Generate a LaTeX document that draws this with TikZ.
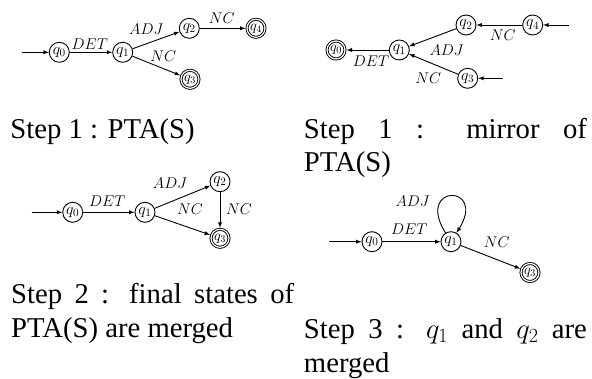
\RequirePackage{fix-cm}
\documentclass[tikz,border=0pt]{standalone}
\usepackage[no-math]{fontspec}
\setmainfont{Liberation Serif}
\usetikzlibrary{arrows}
\tikzset{statenode/.style={circle, draw, minimum size=20pt, inner sep=0pt, font=\fontsize{16}{19}\selectfont},
  finalnode/.style={statenode, double, double distance=1.2pt, minimum size=18pt, outer sep=1.5pt, font=\fontsize{14.5}{17}\selectfont},
  lab/.style={inner sep=0pt, font=\fontsize{15.5}{18}\selectfont},
  capt/.style={inner sep=0pt, anchor=base west, text width=283pt, align=justify, font=\fontsize{28.7}{33.5}\selectfont}}

\begin{document}
\begin{tikzpicture}[x=1pt,y=1pt,line width=0.9pt,>=latex]
       \useasboundingbox (0,0) rectangle (592,378);
       % step 1 : PTA(S)
       \begin{scope}
        \coordinate (a) at (21.7,325.7);
        \node[statenode] (a0) at (59.3,325.7) {$q_0$};
        \node[statenode] (a1) at (122.7,325.7) {$q_1$};
        \node[statenode] (a2) at (189.3,349.7) {$q_2$};
        \node[finalnode] (a3) at (190,298.7) {$q_3$};
        \node[finalnode] (a4) at (256,349.7) {$q_4$};
        \draw[->] (a) -- (a0);
        \draw[->] (a0) -- (a1);
        \draw[->] (a1) -- (a2);
        \draw[->] (a1) -- (a3);
        \draw[->] (a2) -- (a4);
        \node[lab] (la1) at (89.7,333.7) {$DET$};
        \node[lab] (la2) at (146.3,348.7) {$ADJ$};
        \node[lab] (la3) at (221.7,359.3) {$NC$};
        \node[lab] (la4) at (163.3,322) {$NC$};
        \node[capt] (ca) at (10,239.7) {Step 1 : PTA(S)};
       \end{scope}
       % step 1 : mirror
       \begin{scope}[xshift=296pt]
        \coordinate (b) at (273.3,353);
        \coordinate (bb) at (206.7,299.7);
        \node[finalnode] (b0) at (40,328) {$q_0$};
        \node[statenode] (b1) at (103.3,328) {$q_1$};
        \node[statenode] (b2) at (170,353) {$q_2$};
        \node[statenode] (b3) at (171.7,299.7) {$q_3$};
        \node[statenode] (b4) at (236.7,353) {$q_4$};
        \draw[->] (b) -- (b4);
        \draw[->] (bb) -- (b3);
        \draw[->] (b4) -- (b2);
        \draw[->] (b2) -- (b1);
        \draw[->] (b3) -- (b1);
        \draw[->] (b1) -- (b0);
        \node[lab] (lb1) at (206.7,342.7) {$NC$};
        \node[lab] (lb2) at (150.7,327.3) {$ADJ$};
        \node[lab] (lb3) at (75,316.7) {$DET$};
        \node[lab] (lb4) at (132.3,300) {$NC$};
        \node[capt] (cb) at (7.5,239.7) {Step 1 : mirror of\linebreak PTA(S)};
       \end{scope}
       % step 2 : final states merged
       \begin{scope}
        \coordinate (c) at (31.7,165.7);
        \node[statenode] (c0) at (72.7,165.7) {$q_0$};
        \node[statenode] (c1) at (145,165.7) {$q_1$};
        \node[statenode] (c2) at (220,196.3) {$q_2$};
        \node[finalnode] (c3) at (220,139.7) {$q_3$};
        \draw[->] (c) -- (c0);
        \draw[->] (c0) -- (c1);
        \draw[->] (c1) -- (c2);
        \draw[->] (c1) -- (c3);
        \draw[->] (c2) -- (c3);
        \node[lab] (lc1) at (107.3,176.3) {$DET$};
        \node[lab] (lc2) at (170,194.7) {$ADJ$};
        \node[lab] (lc3) at (190,168.7) {$NC$};
        \node[lab] (lc4) at (239,168.7) {$NC$};
        \node[capt] (cc) at (10.7,74.5) {Step 2 : final states of\linebreak PTA(S) are merged};
       \end{scope}
       % step 3 : q1 and q2 merged
       \begin{scope}[xshift=296pt]
        \coordinate (d) at (33.3,136.3);
        \node[statenode] (d0) at (76,136.3) {$q_0$};
        \node[statenode] (d1) at (155,136.3) {$q_1$};
        \node[finalnode] (d3) at (234,105.5) {$q_3$};
        \draw[->] (d) -- (d0);
        \draw[->] (d0) -- (d1);
        \draw[->] (d1) to[out=122,in=58,distance=58pt] (d1);
        \draw[->] (d1) -- (d3);
        \node[lab] (ld1) at (116.7,177) {$ADJ$};
        \node[lab] (ld2) at (113.3,149) {$DET$};
        \node[lab] (ld3) at (200.7,135.7) {$NC$};
        \node[capt] (cd) at (7.5,39.5) {Step 3 : $q_1$ and $q_2$ are\linebreak merged};
       \end{scope}
      \end{tikzpicture}
\end{document}
